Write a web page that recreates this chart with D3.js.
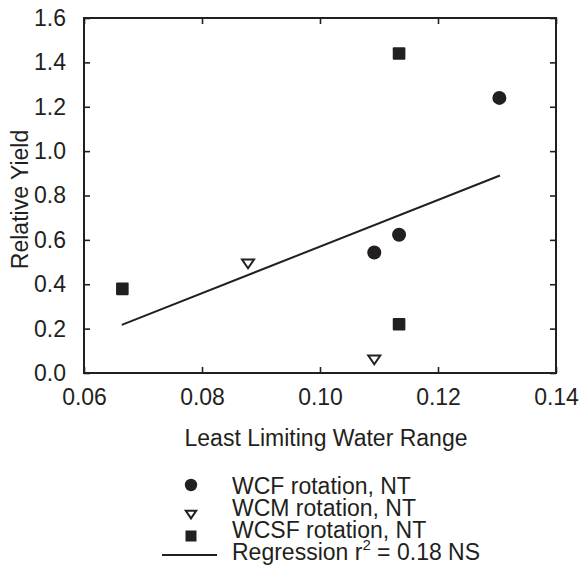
<!DOCTYPE html>
<html><head><meta charset="utf-8">
<script src="https://cdn.jsdelivr.net/npm/d3@7"></script>
<style>body{margin:0;background:#fff}svg{display:block}text{font-family:"Liberation Sans",Arial,sans-serif;fill:#231f20}</style>
</head><body>
<svg id="c" width="581" height="585"></svg>
<script>
const wcfX = [0.1092, 0.1134, 0.1304];
const wcfY = [0.543, 0.623, 1.240];
const wcmX = [0.0878, 0.1092];
const wcmY = [0.495, 0.062];
const wcsfX = [0.0665, 0.1134, 0.1134];
const wcsfY = [0.379, 0.220, 1.440];
const regX = [0.0664, 0.1305];
const regY = [0.217, 0.890];
const xTicks = [0.06, 0.08, 0.10, 0.12, 0.14];
const yTicks = [0.0, 0.2, 0.4, 0.6, 0.8, 1.0, 1.2, 1.4, 1.6];
const legendLabels = ["WCF rotation, NT", "WCM rotation, NT", "WCSF rotation, NT", "Regression r"];

const ink = "#231f20";
const FF = "Liberation Sans, Arial, sans-serif";
const svg = d3.select("#c");
const L = 84, R = 556, T = 18, B = 373;
const x = d3.scaleLinear().domain([0.06, 0.14]).range([L, R]);
const y = d3.scaleLinear().domain([0, 1.6]).range([B, T]);

const fmt = d3.format(".2f"), fmtY = d3.format(".1f");
function styleAxis(g){ g.select(".domain").remove(); g.selectAll("line").attr("stroke", ink).attr("stroke-width", 1.6); }

svg.append("g").attr("transform", `translate(0,${B})`)
  .call(d3.axisBottom(x).tickValues(xTicks).tickSizeInner(-6).tickSizeOuter(0).tickPadding(16).tickFormat(fmt))
  .call(styleAxis)
  .call(g => g.selectAll("text").attr("font-size", 23).attr("fill", ink).attr("font-family", FF));
svg.append("g").attr("transform", `translate(0,${T})`)
  .call(d3.axisTop(x).tickValues(xTicks).tickSizeInner(-6).tickSizeOuter(0).tickFormat(""))
  .call(styleAxis);
svg.append("g").attr("transform", `translate(${L},0)`)
  .call(d3.axisLeft(y).tickValues(yTicks).tickSizeInner(-6).tickSizeOuter(0).tickPadding(18).tickFormat(fmtY))
  .call(styleAxis)
  .call(g => g.selectAll("text").attr("font-size", 23).attr("fill", ink).attr("font-family", FF));
svg.append("g").attr("transform", `translate(${R},0)`)
  .call(d3.axisRight(y).tickValues(yTicks).tickSizeInner(-6).tickSizeOuter(0).tickFormat(""))
  .call(styleAxis);

svg.append("rect").attr("x", L).attr("y", T).attr("width", R - L).attr("height", B - T)
  .attr("fill", "none").attr("stroke", ink).attr("stroke-width", 2);

svg.append("line").attr("x1", x(regX[0])).attr("y1", y(regY[0])).attr("x2", x(regX[1])).attr("y2", y(regY[1]))
  .attr("stroke", ink).attr("stroke-width", 2);

const tri = (s) => `M${-s},${-s*0.62}L${s},${-s*0.62}L0,${s*0.85}Z`;
svg.selectAll(".wcf").data(wcfX).join("circle").attr("cx", d => x(d)).attr("cy", (d, i) => y(wcfY[i])).attr("r", 7).attr("fill", ink);
svg.selectAll(".wcm").data(wcmX).join("path").attr("transform", (d, i) => `translate(${x(d)},${y(wcmY[i])})`)
  .attr("d", tri(6)).attr("fill", "#fff").attr("stroke", ink).attr("stroke-width", 2);
svg.selectAll(".wcsf").data(wcsfX).join("rect").attr("x", d => x(d) - 6.3).attr("y", (d, i) => y(wcsfY[i]) - 6.3)
  .attr("width", 12.6).attr("height", 12.6).attr("rx", 1).attr("fill", ink);

svg.append("text").attr("x", (L + R) / 2 + 6).attr("y", 446).attr("text-anchor", "middle").attr("font-size", 23).text("Least Limiting Water Range");
svg.append("text").attr("transform", `translate(28,${(T + B) / 2 + 4}) rotate(-90)`).attr("text-anchor", "middle").attr("font-size", 23).text("Relative Yield");

const lg = svg.append("g");
const baseY = [494, 516, 538, 560];
const tx = 232, mx = 191;
lg.append("circle").attr("cx", mx).attr("cy", 485).attr("r", 6.2).attr("fill", ink);
lg.append("path").attr("transform", `translate(${mx},${514})`).attr("d", tri(5.2)).attr("fill", "#fff").attr("stroke", ink).attr("stroke-width", 2);
lg.append("rect").attr("x", mx - 5.5).attr("y", 536 - 5.5).attr("width", 11).attr("height", 11).attr("fill", ink);
lg.append("line").attr("x1", 162).attr("x2", 217).attr("y1", 555).attr("y2", 555).attr("stroke", ink).attr("stroke-width", 2);
legendLabels.forEach((t, i) => {
  const te = lg.append("text").attr("x", tx).attr("y", baseY[i]).attr("font-size", 23);
  te.append("tspan").text(t);
  if (i === 3) {
    te.append("tspan").attr("dy", -10).attr("font-size", 15).text("2");
    te.append("tspan").attr("dy", 10).text(" = 0.18 NS");
  }
});
</script>
</body></html>
